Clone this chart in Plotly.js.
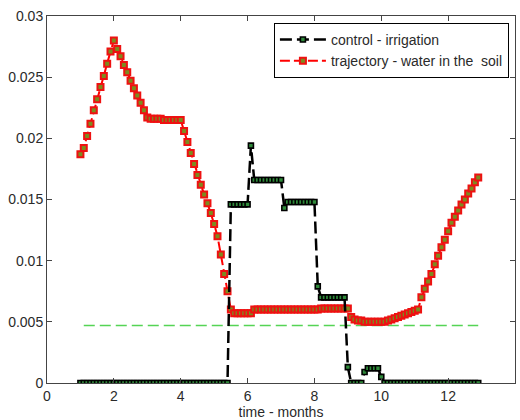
<!DOCTYPE html>
<html>
<head>
<meta charset="utf-8">
<script src="https://cdn.plot.ly/plotly-3.0.1.min.js"></script>
<style>html,body{margin:0;padding:0;background:#fff;}#chart{width:520px;height:420px;}</style>
</head>
<body>
<div id="chart"></div>
<script>
// time grid (months)
const months = [
  1.0,1.1,1.2,1.3,1.4,1.5,1.6,1.7,1.8,1.9,
  2.0,2.1,2.2,2.3,2.4,2.5,2.6,2.7,2.8,2.9,
  3.0,3.1,3.2,3.3,3.4,3.5,3.6,3.7,3.8,3.9,
  4.0,4.1,4.2,4.3,4.4,4.5,4.6,4.7,4.8,4.9,
  5.0,5.1,5.2,5.3,5.4,5.5,5.6,5.7,5.8,5.9,
  6.0,6.1,6.2,6.3,6.4,6.5,6.6,6.7,6.8,6.9,
  7.0,7.1,7.2,7.3,7.4,7.5,7.6,7.7,7.8,7.9,
  8.0,8.1,8.2,8.3,8.4,8.5,8.6,8.7,8.8,8.9,
  9.0,9.1,9.2,9.3,9.4,9.5,9.6,9.7,9.8,9.9,
  10.0,10.1,10.2,10.3,10.4,10.5,10.6,10.7,10.8,10.9,
  11.0,11.1,11.2,11.3,11.4,11.5,11.6,11.7,11.8,11.9,
  12.0,12.1,12.2,12.3,12.4,12.5,12.6,12.7,12.8,12.9
];

// control - irrigation
const control = [
  0,0,0,0,0,0,0,0,0,0,
  0,0,0,0,0,0,0,0,0,0,
  0,0,0,0,0,0,0,0,0,0,
  0,0,0,0,0,0,0,0,0,0,
  0,0,0,0,0,0.0146,0.0146,0.0146,0.0146,0.0146,
  0.0146,0.0194,0.0166,0.0166,0.0166,0.0166,0.0166,0.0166,0.0166,0.0166,
  0.0166,0.0143,0.0148,0.0148,0.0148,0.0148,0.0148,0.0148,0.0148,0.0148,
  0.0148,0.0079,0.0070,0.0070,0.0070,0.0070,0.0070,0.0070,0.0070,0.0070,
  0.0013,0,0,0,0,0.0009,0.0012,0.0012,0.0012,0.0012,
  0.0005,0,0,0,0,0,0,0,0,0,
  0,0,0,0,0,0,0,0,0,0,
  0,0,0,0,0,0,0,0,0,0
];

// trajectory - water in the soil
const trajectory = [
  0.0187,0.0192,0.0202,0.0212,0.0223,0.0232,0.0242,0.0251,0.0261,0.0271,
  0.0280,0.0273,0.0267,0.0260,0.0254,0.0247,0.0241,0.0235,0.0229,0.0223,
  0.0217,0.0216,0.0216,0.0216,0.0216,0.0215,0.0215,0.0215,0.0215,0.0215,
  0.0215,0.0206,0.0197,0.0188,0.0179,0.0170,0.0162,0.0154,0.0147,0.0139,
  0.0130,0.0120,0.0105,0.0089,0.0075,0.0060,0.0057,0.0057,0.0057,0.0057,
  0.0057,0.0057,0.0060,0.0060,0.0060,0.0060,0.0060,0.0060,0.0060,0.0060,
  0.0060,0.0060,0.0060,0.0060,0.0060,0.0060,0.0060,0.0060,0.0060,0.0060,
  0.0060,0.0060,0.0061,0.0061,0.0061,0.0061,0.0061,0.0061,0.0061,0.0061,
  0.0061,0.0054,0.0052,0.0051,0.0051,0.0050,0.0050,0.0050,0.0050,0.0050,
  0.0050,0.0050,0.0051,0.0052,0.0053,0.0054,0.0055,0.0056,0.0057,0.0058,
  0.0059,0.0060,0.0070,0.0077,0.0083,0.0089,0.0097,0.0104,0.0111,0.0117,
  0.0124,0.0131,0.0136,0.0141,0.0146,0.0150,0.0155,0.0159,0.0164,0.0168
];

// reference level (green dashed)
const refX = [1.1, 12.9];
const refY = [0.0047, 0.0047];

const xTicks = [0,2,4,6,8,10,12,14];
const yTicks = [0,0.005,0.01,0.015,0.02,0.025,0.03];
const yTickText = ['0','0.005','0.01','0.015','0.02','0.025','0.03'];

const font = 'Liberation Sans, Arial, sans-serif';
const txt = '#2a2a2a';

const traces = [
  {
    x: refX, y: refY, mode: 'lines', showlegend: false, hoverinfo: 'skip',
    line: {color: '#55d455', width: 1.6, dash: '11px,5px'}
  },
  {
    x: months, y: trajectory, mode: 'lines+markers',
    name: 'trajectory - water in the\u00a0 soil', legendrank: 2,
    line: {color: '#ff0000', width: 2, dash: '10px,4px'},
    marker: {symbol: 'square', size: 6, color: '#7d8a1e', line: {color: '#ee1111', width: 2}}
  },
  {
    x: months, y: control, mode: 'lines+markers',
    name: 'control - irrigation', legendrank: 1,
    line: {color: '#000000', width: 2.5, dash: '12px,5px'},
    marker: {symbol: 'square', size: 5, color: '#2f8a3a', line: {color: '#000000', width: 1.6}}
  }
];

const axisCommon = {
  showgrid: false, zeroline: false, showline: true, linecolor: '#444', linewidth: 1,
  mirror: 'ticks', ticks: 'inside', ticklen: 5, tickcolor: '#444',
  tickfont: {family: font, size: 14, color: txt}, automargin: false
};

const layout = {
  width: 520, height: 420,
  margin: {l: 47, r: 5, t: 16, b: 37},
  paper_bgcolor: '#ffffff', plot_bgcolor: '#ffffff',
  showlegend: true,
  xaxis: Object.assign({}, axisCommon, {
    range: [0, 14], tickmode: 'array', tickvals: xTicks,
    title: {text: 'time - months', font: {family: font, size: 14, color: txt}, standoff: 9}
  }),
  yaxis: Object.assign({}, axisCommon, {
    range: [0, 0.03], tickmode: 'array', tickvals: yTicks, ticktext: yTickText
  }),
  legend: {
    x: 0.987, y: 0.981, xanchor: 'right', yanchor: 'top',
    bgcolor: '#ffffff', bordercolor: '#000000', borderwidth: 1,
    font: {family: font, size: 14, color: txt},
    itemwidth: 46, tracegroupgap: 0
  }
};

Plotly.newPlot('chart', traces, layout, {displayModeBar: false, staticPlot: true});
</script>
</body>
</html>
